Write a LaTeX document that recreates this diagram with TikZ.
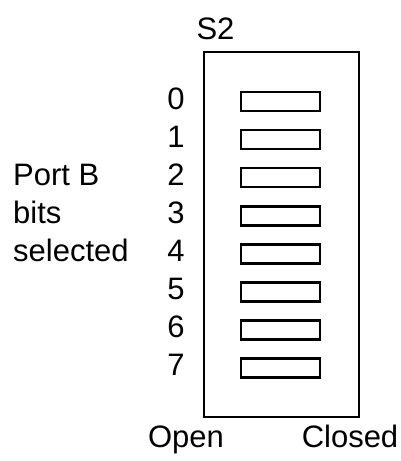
\documentclass[tikz,border=0pt]{standalone}
\usepackage{fontspec}
\setmainfont{Liberation Sans}
\begin{document}
\begin{tikzpicture}[x=1pt,y=-1pt,
  lbl/.style={inner sep=0pt,font=\fontsize{31}{31}\selectfont,text height=0.716em,text depth=0pt,yshift=-4pt},
  switchbox/.style={draw,line width=2.5pt,minimum width=79pt,minimum height=19pt,inner sep=0pt},
  frame/.style={draw,line width=2.5pt}]
\useasboundingbox (0,0) rectangle (401,461);
\node[frame,minimum width=155pt,minimum height=365pt,inner sep=0pt] (box) at (281.5,234.5) {};
\node[lbl] (s2) at (215.5,31.5) {S2};
\foreach \i in {0,...,7}{
  \pgfmathsetmacro{\yy}{101.5+38.1*\i}
  \node[switchbox] (sw\i) at (280.5,\yy) {};
  \node[lbl] (d\i) at (176,\yy) {\i};
}
\node[lbl,anchor=west] (pb) at (13,177.7) {Port B};
\node[lbl,anchor=west] (bits) at (13,215.8) {bits};
\node[lbl,anchor=west] (sel) at (13,253.9) {selected};
\node[lbl] (open) at (186,440) {Open};
\node[lbl] (closed) at (350,440) {Closed};
\end{tikzpicture}
\end{document}
